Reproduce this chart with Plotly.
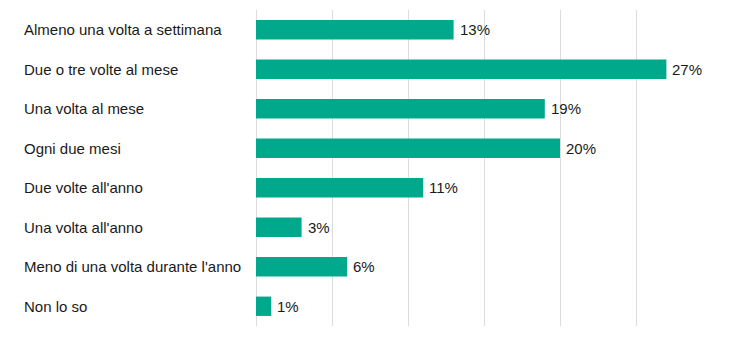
import plotly.graph_objects as go

# Survey answers: how often respondents do the activity
categories = [
    "Almeno una volta a settimana",
    "Due o tre volte al mese",
    "Una volta al mese",
    "Ogni due mesi",
    "Due volte all'anno",
    "Una volta all'anno",
    "Meno di una volta durante l'anno",
    "Non lo so",
]
shares = [13, 27, 19, 20, 11, 3, 6, 1]  # percent

W, H = 754, 348
left, right, top, bottom = 256, 42, 10, 22
plot_w = W - left - right
FONT = dict(family="Liberation Sans, Arial, sans-serif", size=15, color="#1a1a1a")

fig = go.Figure(
    go.Bar(
        y=categories,
        x=shares,
        orientation="h",
        marker=dict(color="#00a98b", line=dict(width=0)),
        hoverinfo="skip",
    )
)

# Category labels, left-aligned in the left margin
for cat in categories:
    fig.add_annotation(
        x=(22 - left) / plot_w, xref="paper",
        y=cat, yref="y",
        text=cat, showarrow=False,
        xanchor="left", yanchor="middle",
        font=FONT,
    )

# Value labels just past the end of each bar
for cat, v in zip(categories, shares):
    fig.add_annotation(
        x=v, xref="x",
        y=cat, yref="y",
        text=f"{v}%", showarrow=False,
        xanchor="left", yanchor="middle",
        xshift=4,
        font=FONT,
    )

fig.update_layout(
    width=W,
    height=H,
    margin=dict(l=left, r=right, t=top, b=bottom),
    paper_bgcolor="white",
    plot_bgcolor="white",
    bargap=0.51,
    showlegend=False,
    xaxis=dict(
        range=[0, 30],
        dtick=5,
        showgrid=True,
        gridcolor="#dcdcdc",
        gridwidth=1,
        zeroline=True,
        zerolinecolor="#dcdcdc",
        zerolinewidth=1,
        showticklabels=False,
        showline=False,
        fixedrange=True,
    ),
    yaxis=dict(
        categoryorder="array",
        categoryarray=categories[::-1],
        showticklabels=False,
        showgrid=False,
        zeroline=False,
        fixedrange=True,
    ),
)

fig.write_html("out.html")
